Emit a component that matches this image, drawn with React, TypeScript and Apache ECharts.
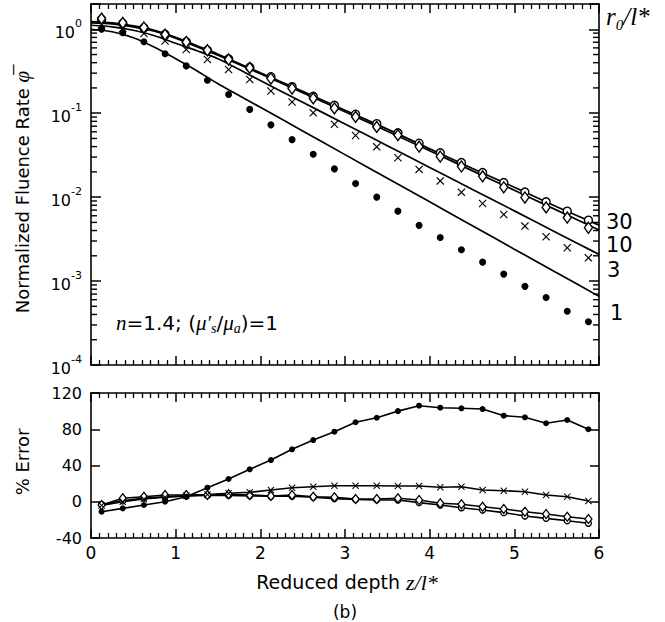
import React, { useEffect, useRef } from "react";
import * as echarts from "echarts";

// Monte Carlo sample depths (z/l*)
const DEPTH = [0.125, 0.375, 0.625, 0.875, 1.125, 1.375, 1.625, 1.875, 2.125, 2.375, 2.625, 2.875,
  3.125, 3.375, 3.625, 3.875, 4.125, 4.375, 4.625, 4.875, 5.125, 5.375, 5.625, 5.875];

// Monte Carlo normalized fluence rate, by r0/l*
const MC_30 = [1.31, 1.18, 1.04, 0.872, 0.71, 0.562, 0.445, 0.353, 0.272, 0.207, 0.159, 0.124,
  0.0973, 0.075, 0.0583, 0.0439, 0.0337, 0.0258, 0.0196, 0.0149, 0.0115, 0.0088, 0.0068, 0.00532];
const MC_10 = [1.34, 1.19, 1.05, 0.865, 0.706, 0.562, 0.436, 0.346, 0.259, 0.197, 0.15, 0.114,
  0.0904, 0.0687, 0.0547, 0.04, 0.0305, 0.0232, 0.0177, 0.0131, 0.0099, 0.00755, 0.0057, 0.00432];
const MC_3 = [1.13, 1.02, 0.889, 0.726, 0.573, 0.436, 0.331, 0.252, 0.184, 0.136, 0.101, 0.074,
  0.0543, 0.0397, 0.0294, 0.0214, 0.0156, 0.0114, 0.00841, 0.00622, 0.00452, 0.00337, 0.00249, 0.00189];
const MC_1 = [1.0, 0.91, 0.71, 0.51, 0.366, 0.247, 0.167, 0.111, 0.0726, 0.0484, 0.0325, 0.0217,
  0.0145, 0.01, 0.00681, 0.00461, 0.00331, 0.00236, 0.00168, 0.00121, 0.000865, 0.000636, 0.000437, 0.000327];

// Diffusion theory curves
const THEORY_X = [0, 0.25, 0.5, 0.75, 1, 1.25, 1.5, 2, 2.5, 3, 3.5, 4, 4.5, 5, 5.5, 6];
const TH_30 = [1.23, 1.19, 1.1, 0.973, 0.803, 0.637, 0.504, 0.303, 0.183, 0.1086, 0.0646, 0.0378, 0.0221, 0.01315, 0.0077, 0.00464];
const TH_10 = [1.19, 1.16, 1.07, 0.946, 0.782, 0.62, 0.49, 0.295, 0.175, 0.104, 0.061, 0.0358, 0.0207, 0.0121, 0.007, 0.00405];
const TH_3 = [1.116, 1.07, 0.973, 0.838, 0.681, 0.555, 0.445, 0.245, 0.135, 0.0744, 0.041, 0.0226, 0.01245, 0.00686, 0.00377, 0.00208];
const TH_1 = [1.0, 0.934, 0.792, 0.61, 0.446, 0.321, 0.224, 0.1175, 0.0615, 0.0321, 0.0168, 0.00879, 0.00459, 0.0024, 0.00126, 0.000657];

// % error
const ERR_30 = [-3, 1, 4, 5.5, 6.5, 7, 7, 6.5, 6, 6, 5, 3.5, 2.5, 2, 1.9, -1, -3.6, -6.6, -9.1, -12, -15.7, -18.3, -20.9, -23.8];
const ERR_10 = [-3.6, 3.8, 5.6, 7.5, 7.5, 7.5, 8.2, 7.5, 6.4, 7.5, 5.6, 4.9, 3, 3, 3.8, 1.9, -1.7, -2.8, -5.5, -8, -11, -13.5, -16.5, -19];
const ERR_3 = [-4, 0, 3, 5, 6.5, 8, 9.3, 10.4, 13, 15.5, 16.6, 17.7, 17.7, 17.7, 17.4, 17.4, 16, 16.6, 13, 12.2, 11.1, 7.5, 5.6, 0.8];
const ERR_1 = [-11, -7.3, -3.6, 0, 5.6, 15.5, 25.1, 35.8, 46, 57.9, 68.1, 77.3, 87.7, 92.7, 100, 106, 103.8, 103.1, 102.3, 95, 93.2, 86.6, 90.2, 80];

const R_LABELS = ["30", "10", "3", "1"];
const ERR_TICKS = [-40, 120, 40];
const X_RANGE = [0, 6];

const CROSS = "path://M0,1 L1,0 L5,4 L9,0 L10,1 L6,5 L10,9 L9,10 L5,6 L1,10 L0,9 L4,5 Z";
const SANS = "DejaVu Sans";
const SERIF = "Liberation Serif";

const zip = (xs: number[], ys: number[]) => xs.map((x, i) => [x, ys[i]]);

export default function App() {
  const ref = useRef<HTMLDivElement>(null);
  useEffect(() => {
    document.body.style.margin = "0";
    document.body.style.overflow = "hidden";
    const chart = echarts.init(ref.current!, null, { renderer: "svg" });

    const minor: number[][] = [];
    for (let e = -4; e <= 0; e++) {
      for (let m = 2; m <= 9; m++) {
        const v = m * Math.pow(10, e);
        if (v < 1.9) minor.push([0, v]);
      }
    }

    const black = "#000";
    const mkLine = () => ({ show: true, onZero: false, lineStyle: { color: black, width: 1.6 } });
    const mkTick = (len: number) => ({ show: true, inside: true, length: len, lineStyle: { color: black, width: 1.5 } });

    const xAxis = (gridIndex: number, position: string, labels: boolean) => ({
      type: "value", gridIndex, position, min: X_RANGE[0], max: X_RANGE[1], interval: 1,
      axisLine: mkLine(),
      axisTick: mkTick(9),
      minorTick: { show: true, splitNumber: 10, length: 5, lineStyle: { color: black, width: 1.3 } },
      splitLine: { show: false },
      minorSplitLine: { show: false },
      axisLabel: { show: labels, color: black, fontSize: 17, fontFamily: SANS, margin: 6 },
    });
    const logY = (position: string, labels: boolean) => ({
      type: "log", gridIndex: 0, position, min: 1e-4, max: 2, logBase: 10,
      axisLine: mkLine(),
      axisTick: mkTick(10),
      splitLine: { show: false },
      axisLabel: {
        show: labels, margin: 9,
        formatter: (v: number) => {
          const l = Math.log10(v);
          const e = Math.round(l);
          if (Math.abs(l - e) > 0.01) return "";
          return `{b|10}{s|${e}}`;
        },
        rich: {
          b: { fontSize: 16, fontFamily: SANS, color: black, lineHeight: 22, verticalAlign: "bottom" },
          s: { fontSize: 11, fontFamily: SANS, color: black, lineHeight: 12, verticalAlign: "top" },
        },
      },
    });
    const errY = (position: string, labels: boolean) => ({
      type: "value", gridIndex: 1, position, min: ERR_TICKS[0], max: ERR_TICKS[1], interval: ERR_TICKS[2],
      axisLine: mkLine(),
      axisTick: mkTick(9),
      splitLine: { show: false },
      axisLabel: { show: labels, color: black, fontSize: 16, fontFamily: SANS, margin: 9 },
    });

    const theory = (data: number[]) => ({
      type: "line", xAxisIndex: 0, yAxisIndex: 0, data: zip(THEORY_X, data), showSymbol: false,
      smooth: 0.25, lineStyle: { color: black, width: 1.7 }, z: 2,
    });
    const scatter = (data: number[], symbol: string, size: any, filled: boolean) => ({
      type: "scatter", xAxisIndex: 0, yAxisIndex: 0, data: zip(DEPTH, data), symbol, symbolSize: size,
      itemStyle: filled
        ? { color: black, opacity: 1 }
        : { color: "#fff", borderColor: black, borderWidth: 1.4, opacity: 1 },
      z: 3,
    });
    const err = (data: number[], symbol: string, size: any, filled: boolean) => ({
      type: "line", xAxisIndex: 2, yAxisIndex: 2, data: zip(DEPTH, data), symbol, symbolSize: size,
      showSymbol: true, lineStyle: { color: black, width: 1.6 },
      itemStyle: filled
        ? { color: black, opacity: 1 }
        : { color: "#fff", borderColor: black, borderWidth: 1.3, opacity: 1 },
    });

    const option: any = {
      animation: false,
      grid: [
        { left: 91, top: 4, width: 508, height: 361 },
        { left: 91, top: 393, width: 508, height: 145 },
      ],
      xAxis: [xAxis(0, "bottom", false), xAxis(0, "top", false), xAxis(1, "bottom", true), xAxis(1, "top", false)],
      yAxis: [logY("left", true), logY("right", false), errY("left", true), errY("right", false)],
      series: [
        {
          type: "custom", xAxisIndex: 0, yAxisIndex: 0, data: minor, encode: { x: 0, y: 1 },
          clip: false, z: 10,
          renderItem: (_p: any, api: any) => {
            const v = api.value(1);
            const a = api.coord([X_RANGE[0], v]);
            const b = api.coord([X_RANGE[1], v]);
            return {
              type: "group",
              children: [
                { type: "line", shape: { x1: a[0], y1: a[1], x2: a[0] + 6, y2: a[1] }, style: { stroke: black, lineWidth: 1.4 } },
                { type: "line", shape: { x1: b[0] - 6, y1: b[1], x2: b[0], y2: b[1] }, style: { stroke: black, lineWidth: 1.4 } },
              ],
            };
          },
        },
        theory(TH_30), theory(TH_10), theory(TH_3), theory(TH_1),
        scatter(MC_30, "circle", 8, false),
        scatter(MC_10, "diamond", [8, 11], false),
        scatter(MC_3, CROSS, 8, true),
        scatter(MC_1, "circle", 7, true),
        err(ERR_30, "circle", 6, false),
        err(ERR_10, "diamond", [7, 9], false),
        err(ERR_3, CROSS, 7, true),
        err(ERR_1, "circle", 6, true),
      ],
      graphic: [
        {
          type: "text", x: 22, y: 192, rotation: Math.PI / 2,
          style: {
            text: "{a|Normalized Fluence Rate }{p|\u03C6\u0305}",
            align: "center", verticalAlign: "middle",
            rich: {
              a: { fontSize: 18, fontFamily: SANS, fill: black },
              p: { fontSize: 21, fontFamily: SERIF, fontStyle: "italic", fill: black },
            },
          },
        },
        {
          type: "text", x: 22, y: 462, rotation: Math.PI / 2,
          style: { text: "% Error", align: "center", verticalAlign: "middle", fontSize: 18, fontFamily: SANS, fill: black },
        },
        {
          type: "text", x: 347, y: 582,
          style: {
            text: "{a|Reduced depth }{i|z/l*}", align: "center", verticalAlign: "middle",
            rich: {
              a: { fontSize: 19, fontFamily: SANS, fill: black },
              i: { fontSize: 22, fontFamily: SERIF, fontStyle: "italic", fill: black },
            },
          },
        },
        {
          type: "text", x: 606, y: 4,
          style: {
            text: "{i|r}{u|0}{i|/l*}", align: "left", verticalAlign: "top",
            rich: {
              i: { fontSize: 25, fontFamily: SERIF, fontStyle: "italic", fill: black, lineHeight: 28, verticalAlign: "top" },
              u: { fontSize: 15, fontFamily: SERIF, fontStyle: "italic", fill: black, lineHeight: 15, verticalAlign: "bottom" },
            },
          },
        },
        { type: "text", x: 606, y: 222, style: { text: R_LABELS[0], fontSize: 21, fontFamily: SANS, fill: black, verticalAlign: "middle" } },
        { type: "text", x: 606, y: 245, style: { text: R_LABELS[1], fontSize: 21, fontFamily: SANS, fill: black, verticalAlign: "middle" } },
        { type: "text", x: 607, y: 270, style: { text: R_LABELS[2], fontSize: 21, fontFamily: SANS, fill: black, verticalAlign: "middle" } },
        { type: "text", x: 610, y: 313, style: { text: R_LABELS[3], fontSize: 21, fontFamily: SANS, fill: black, verticalAlign: "middle" } },
        {
          type: "text", x: 116, y: 323,
          style: {
            text: "{i|n}{r|=1.4; (}{i|\u03BC\u2032}{u|s}{r|/}{i|\u03BC}{u|a}{r|)=1}",
            align: "left", verticalAlign: "middle",
            rich: {
              i: { fontSize: 21, fontFamily: SERIF, fontStyle: "italic", fill: black, lineHeight: 24, verticalAlign: "middle" },
              r: { fontSize: 20, fontFamily: SANS, fill: black, lineHeight: 24, verticalAlign: "middle" },
              u: { fontSize: 14, fontFamily: SERIF, fontStyle: "italic", fill: black, lineHeight: 14, verticalAlign: "bottom" },
            },
          },
        },
        { type: "text", x: 345, y: 620, style: { text: "(b)", align: "center", verticalAlign: "bottom", fontSize: 17, fontFamily: SANS, fill: black } },
      ],
    };
    chart.setOption(option);
    return () => chart.dispose();
  }, []);
  return <div ref={ref} style={{ width: 665, height: 622 }} />;
}
